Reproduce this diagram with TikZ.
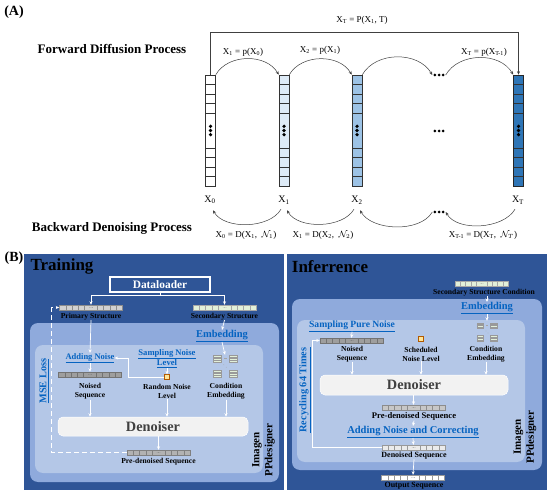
\documentclass[tikz,border=0pt]{standalone}
\usepackage{fontspec}
\setmainfont{Liberation Serif}
\usetikzlibrary{arrows.meta,calc}
\definecolor{panelblue}{HTML}{2F5597}
\definecolor{outerblue}{HTML}{8FAADC}
\definecolor{innerblue}{HTML}{B4C7E7}
\definecolor{linkblue}{HTML}{0563C1}
\definecolor{cellgreen}{HTML}{E2F0D9}
\definecolor{noiseyel}{HTML}{FFE699}
\definecolor{xonefill}{HTML}{DEEBF7}
\definecolor{xtwofill}{HTML}{9DC3E6}
\definecolor{xTfill}{HTML}{2E75B6}
\newcommand{\sz}[2]{\fontsize{#1}{#2}\selectfont}

\begin{document}
\begin{tikzpicture}[x=1pt, y=1pt, >={Stealth[length=3.5pt,width=3pt]},
  arc/.style={draw=black!75, line width=0.5pt},
  flow/.style={draw=white, line width=0.7pt, ->},
  col/.style={draw=black!80, fill=#1, line width=0.6pt, minimum width=10, minimum height=111, inner sep=0,
    path picture={
      \foreach \d in {9.5,19,28.5,38,73,82.5,92,101.5}
        \draw[black!80, line width=0.6pt] ([yshift=-\d]path picture bounding box.north west) -- ([yshift=-\d]path picture bounding box.north east);
      \foreach \d in {51.3,55.5,59.7}
        \fill[black] ([yshift=-\d]path picture bounding box.north) circle (1.8);
    }},
  dots/.style={minimum width=13, minimum height=5, inner sep=0,
    path picture={\foreach \i in {-4.2,0,4.2} \fill[black] ([xshift=\i]path picture bounding box.center) circle (1.5);}},
  seq/.style={draw=#1, line width=0.4pt, minimum width=63, minimum height=5, inner sep=0,
    path picture={
      \foreach \i in {1,2,3,4,6,7,8,9}
        \draw[#1, line width=0.4pt] ($(path picture bounding box.south west)!\i/10!(path picture bounding box.south east)$) -- ($(path picture bounding box.north west)!\i/10!(path picture bounding box.north east)$);
      \foreach \i in {-1.4,0,1.4}
        \fill[#1] ([xshift=\i]path picture bounding box.center) circle (0.35);
    }},
  condemb/.pic={
    \foreach \x/\y in {-8/7.5,8/7.5,-8/-7.5,8/-7.5}{
      \filldraw[fill=cellgreen, draw=black!40, line width=0.3pt] (\x-4,\y-3.5) rectangle (\x+4,\y+3.5);
      \foreach \h in {-1.75,0,1.75}
        \draw[black!40, line width=0.3pt] (\x-4,\y+\h) -- (\x+4,\y+\h);
    }
    \fill[black!35] (-1.5,7.5) rectangle (1.5,8);
    \fill[black!35] (-1.2,1.2) circle (0.4) (1.2,-1.2) circle (0.4);
    \node[minimum width=26, minimum height=22, inner sep=0] (-box) {};
  },
  eq/.style={font=\sz{9}{11}, inner sep=0},
  xl/.style={font=\sz{10}{12}, inner sep=0},
  head/.style={font=\bfseries\sz{13}{15}, inner sep=0},
  ttl/.style={font=\bfseries\sz{17}{19}, inner sep=0},
  lab/.style={font=\bfseries\sz{7.6}{9}, align=center, inner sep=0},
  lnk/.style={text=linkblue, font=\bfseries\sz{10.5}{12}, align=center, inner sep=0},
  loader/.style={draw=white, line width=1.2pt, minimum width=100, minimum height=15, text=white, font=\bfseries\sz{11.4}{13}},
  den/.style={fill=black!5, draw=white, line width=0.5pt, rounded corners=5, minimum width=190, minimum height=19, text=black!75, font=\bfseries\sz{14.3}{16}},
  ysq/.style={fill=noiseyel, draw=orange!70!black, line width=0.3pt, minimum size=5, inner sep=0},
  ipp/.style={rotate=90, align=center, font=\bfseries\sz{11}{13}, inner sep=0}]

\fill[white] (0,0) rectangle (550,-495);
\useasboundingbox (0,0) rectangle (550,-495);

\node[font=\bfseries\sz{14}{16}, inner sep=0] (tagA) at (14,-12) {(A)};
\node[head] (fwd) at (112,-49) {Forward Diffusion Process};
\node[head] (bwd) at (112,-228) {Backward Denoising Process};

\node[col=white] (c0) at (210.5,-130.5) {};
\node[col=xonefill] (c1) at (284,-130.5) {};
\node[col=xtwofill] (c2) at (357,-130.5) {};
\node[col=xTfill, draw=black!85] (cT) at (518.5,-130.5) {};
\node[dots] (dt) at (439,-75) {};
\node[dots] (dm) at (439,-131) {};
\node[dots] (db) at (439,-212) {};

\node[xl] (l0) at (210,-200) {X\textsubscript{0}};
\node[xl] (l1) at (284,-200) {X\textsubscript{1}};
\node[xl] (l2) at (357,-200) {X\textsubscript{2}};
\node[xl] (lT) at (518,-200) {X\textsubscript{T}};

\node[eq] (f1) at (243,-52) {X\textsubscript{1} = p(X\textsubscript{0})};
\node[eq] (f2) at (320,-50) {X\textsubscript{2} = p(X\textsubscript{1})};
\node[eq] (fT) at (484,-52) {X\textsubscript{T} = p(X\textsubscript{T-1})};
\node[eq] (fall) at (362,-20) {X\textsubscript{T} = P(X\textsubscript{1}, T)};
\node[eq] (b1) at (246,-235) {X\textsubscript{0} = D(X\textsubscript{1},\enspace$\mathcal{N}_{1}$)};
\node[eq] (b2) at (323,-235) {X\textsubscript{1} = D(X\textsubscript{2},\enspace$\mathcal{N}_{2}$)};
\node[eq] (bT) at (483,-235) {X\textsubscript{T-1} = D(X\textsubscript{T},\enspace$\mathcal{N}_{T}$)};

\draw[arc,->] (c0.north east) to[out=60,in=120] (c1.north west);
\draw[arc,->] (c1.north east) to[out=60,in=120] (c2.north west);
\draw[arc,->] (c2.north east) to[out=60,in=120] (dt.west);
\draw[arc,->] (dt.east) to[out=60,in=120] (cT.north west);
\draw[arc,->] (c0.north) -- ++(0,42) -| (cT.north);
\draw[arc,->] ([xshift=-3,yshift=-5]l1.south) to[out=-120,in=-60,looseness=0.85] ([xshift=3,yshift=-6]l0.south);
\draw[arc,->] ([xshift=-3,yshift=-5]l2.south) to[out=-120,in=-60,looseness=0.85] ([xshift=3,yshift=-6]l1.south);
\draw[arc,->] (db.west) to[out=-120,in=-60,looseness=0.85] ([xshift=3,yshift=-6]l2.south);
\draw[arc,->] ([xshift=-3,yshift=-5]lT.south) to[out=-120,in=-60,looseness=0.85] (db.east);

\node[font=\bfseries\sz{14}{16}, inner sep=0] (tagB) at (14,-258) {(B)};
\fill[panelblue] (24,-254) rectangle (284,-490);
\fill[panelblue] (287,-254) rectangle (547,-490);
\fill[outerblue, rounded corners=8] (30,-323) rectangle (279,-482);
\fill[innerblue, rounded corners=8] (35,-345) rectangle (263,-473);
\fill[outerblue, rounded corners=8] (292,-299) rectangle (542,-470);
\fill[innerblue, rounded corners=8] (297,-320) rectangle (525,-462);

\node[ttl] (ttr) at (62,-266) {Training};
\node[loader] (dl) at (160,-284.5) {Dataloader};
\node[seq=black!45, fill=black!18] (ps) at (91,-307.5) {};
\node[lab] (psl) at (91,-316.5) {Primary Structure};
\node[seq=black!35, fill=cellgreen] (ss) at (224.5,-307.5) {};
\node[lab] (ssl) at (224.5,-316.5) {Secondary Structure};
\node[lnk] (emb) at (222,-336) {\underline{Embedding}};
\pic (ce) at (225,-366) {condemb};
\node[lab] (cel) at (226,-391.5) {Condition\\Embedding};
\node[lnk, font=\bfseries\sz{8.5}{10}] (an) at (90,-358) {\underline{Adding Noise}};
\node[seq=black!55, fill=black!38] (ns) at (90,-374.5) {};
\node[lab] (nsl) at (90,-391.5) {Noised\\Sequence};
\node[lnk, font=\bfseries\sz{8.6}{9.5}] (snl) at (167,-358.5) {\underline{Sampling Noise}\\\underline{Level}};
\node[ysq] (rn) at (167,-377) {};
\node[lab] (rnl) at (167,-391.5) {Random Noise\\Level};
\node[den] (dn) at (153,-426.5) {Denoiser};
\node[seq=black!50, fill=black!30] (pd) at (158.5,-452.5) {};
\node[lab] (pdl) at (158.5,-461.5) {Pre-denoised Sequence};
\node[lnk, rotate=90, font=\bfseries\sz{10.3}{12}] (mse) at (44,-381) {\underline{MSE Loss}};
\node[ipp] (ipp1) at (263.5,-450) {Imagen\\PPdesigner};

\draw[flow,-] (dl.south) -- ++(0,-3) coordinate (split);
\draw[flow] (split) -| (ps.north);
\draw[flow] (split) -| (ss.north);
\draw[flow] (psl.south) -- (an.north);
\draw[flow] (an.south) -- (ns.north);
\draw[flow] (ssl.south) -- (emb.north);
\draw[flow] (emb.south) -- (ce-box.north);
\draw[flow] (snl.south) -- (rn.north);
\draw[flow] (rn.west) -- ++(-36,0) |- (an.east);
\draw[flow] (nsl.south) -- (nsl.south |- dn.north);
\draw[flow] (rnl.south) -- (rnl.south |- dn.north);
\draw[flow] (cel.south) -- (cel.south |- dn.north);
\draw[flow] (pd.north |- dn.south) -- (pd.north);
\draw[flow, line width=1pt, dash pattern=on 5pt off 3pt] (pd.west) -- ++(-75,0) |- (ps.west);

\node[ttl] (tinf) at (330,-267) {Inferrence};
\node[seq=black!35, fill=cellgreen, minimum width=53] (sc) at (481.5,-283.5) {};
\node[lab] (scl) at (484,-292.5) {Secondary Structure Condition};
\node[lnk] (emb2) at (487,-308) {\underline{Embedding}};
\pic[scale=0.85] (ce2) at (487,-332) {condemb};
\node[lab] (cel2) at (486,-354) {Condition\\Embedding};
\node[lnk, font=\bfseries\sz{9.6}{11}] (spn) at (352,-326) {\underline{Sampling Pure Noise}};
\node[seq=black!55, fill=black!38] (ns2) at (351.5,-340.5) {};
\node[lab] (nsl2) at (352,-354) {Noised\\Sequence};
\node[ysq] (sn) at (421,-339) {};
\node[lab] (snl2) at (421,-354) {Scheduled\\Noise Level};
\node[den, minimum width=188, minimum height=20] (dn2) at (414,-385) {Denoiser};
\node[seq=black!45, fill=black!22] (pd2) at (413.5,-407.5) {};
\node[lab, font=\bfseries\sz{8.6}{10}] (pdl2) at (414,-416.5) {Pre-denoised Sequence};
\node[lnk] (anc) at (413,-432) {\underline{Adding Noise and Correcting}};
\node[seq=black!40, fill=black!8] (dq) at (413.5,-447.5) {};
\node[lab, font=\bfseries\sz{8}{9}] (dql) at (414,-455.5) {Denoised Sequence};
\node[seq=black!40, fill=white] (outq) at (413,-477.5) {};
\node[lab, font=\bfseries\sz{8}{9}] (outl) at (414,-486) {Output Sequence};
\node[lnk, rotate=90, font=\bfseries\sz{10.3}{12}] (rec) at (305,-390) {\underline{Recycling 64 Times}};
\node[ipp] (ipp2) at (525,-437) {Imagen\\PPdesigner};

\draw[flow] (emb2.north |- scl.south) -- (emb2.north);
\draw[flow] (emb2.south) -- (ce2-box.north);
\draw[flow] (spn.south) -- (ns2.north);
\draw[flow] (nsl2.south) -- (nsl2.south |- dn2.north);
\draw[flow] (snl2.south) -- (snl2.south |- dn2.north);
\draw[flow] (cel2.south) -- (cel2.south |- dn2.north);
\draw[flow] (pd2.north |- dn2.south) -- (pd2.north);
\draw[flow] (pdl2.south) -- (anc.north);
\draw[flow] (anc.south) -- (dq.north);
\draw[flow] (dql.south) -- (outq.north);
\draw[flow] (dq.west) -- ++(-69,0) |- (ns2.west);
\end{tikzpicture}
\end{document}
